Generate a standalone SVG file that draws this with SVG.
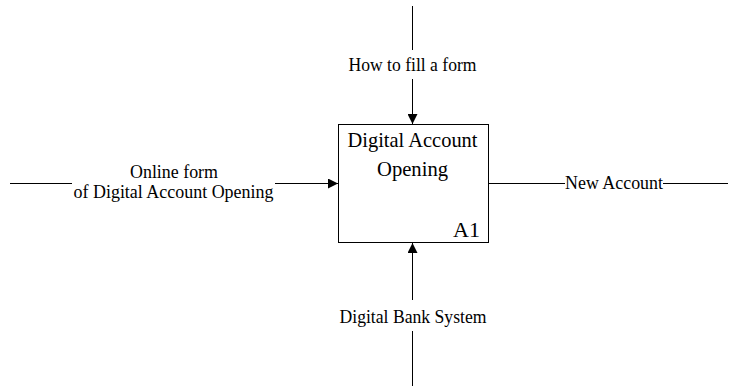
<svg xmlns="http://www.w3.org/2000/svg" width="729" height="392" viewBox="0 0 729 392">
<style>
.ln{stroke:#000;stroke-width:1;fill:none}
.t{font-family:"Liberation Serif","Times New Roman",serif;fill:#000}
.lbl{font-size:19px;text-anchor:middle}
.ttl{font-size:22px;text-anchor:middle}
</style>
<defs>
<marker id="ah" viewBox="0 0 10 10" refX="10" refY="5" markerWidth="10" markerHeight="10" markerUnits="userSpaceOnUse" orient="auto">
<path d="M0,0 L10,5 L0,10 z" fill="#000"/>
</marker>
</defs>
<rect width="729" height="392" fill="#fff"/>
<g id="A1">
<rect x="338.5" y="124.5" width="150" height="118" fill="#fff" stroke="#000" stroke-width="1"/>
<text class="t ttl" x="412.5" y="147" textLength="130" lengthAdjust="spacingAndGlyphs">Digital Account</text>
<text class="t ttl" x="412.5" y="176" textLength="71" lengthAdjust="spacingAndGlyphs">Opening</text>
<text class="t" x="480" y="237" font-size="22" text-anchor="end">A1</text>
</g>
<g id="connectors">
<path class="ln" d="M412.5,6 V50"/>
<path class="ln" d="M412.5,79 V124" marker-end="url(#ah)"/>
<path class="ln" d="M10,183.5 H72"/>
<path class="ln" d="M275,183.5 H338" marker-end="url(#ah)"/>
<path class="ln" d="M488.5,183.5 H565"/>
<path class="ln" d="M663,183.5 H728"/>
<path class="ln" d="M412.5,300 V243" marker-end="url(#ah)"/>
<path class="ln" d="M412.5,386 V331"/>
</g>
<g id="labels">
<text class="t lbl" x="412.5" y="71" textLength="128" lengthAdjust="spacingAndGlyphs">How to fill a form</text>
<text class="t lbl" x="174" y="178" textLength="88" lengthAdjust="spacingAndGlyphs">Online form</text>
<text class="t lbl" x="173.5" y="198" textLength="200" lengthAdjust="spacingAndGlyphs">of Digital Account Opening</text>
<text class="t lbl" x="614" y="189" textLength="98" lengthAdjust="spacingAndGlyphs">New Account</text>
<text class="t lbl" x="413" y="323" textLength="147" lengthAdjust="spacingAndGlyphs">Digital Bank System</text>
</g>
</svg>
